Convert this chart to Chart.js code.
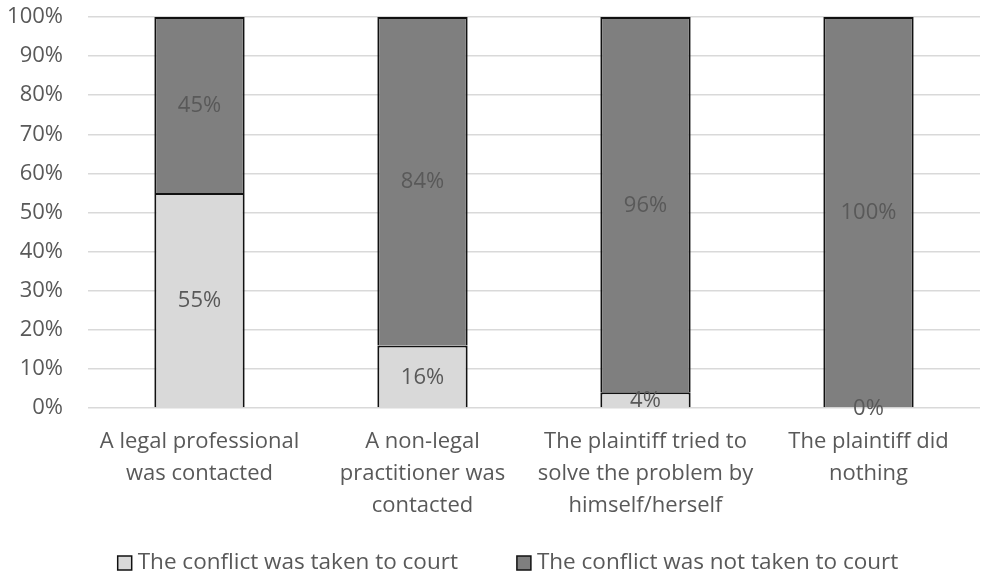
<!DOCTYPE html>
<html>
<head>
<meta charset="utf-8">
<script src="https://cdn.jsdelivr.net/npm/chart.js@4"></script>
<style>
  html, body { margin: 0; padding: 0; background: #fff; }
  #wrap { width: 983px; height: 574px; }
</style>
</head>
<body>
<div id="wrap"><canvas id="barChart" width="983" height="574"></canvas></div>
<script>
const categories = [
  ['A legal professional', 'was contacted'],
  ['A non-legal', 'practitioner was', 'contacted'],
  ['The plaintiff tried to', 'solve the problem by', 'himself/herself'],
  ['The plaintiff did', 'nothing']
];
const takenToCourt = [55, 16, 4, 0];
const notTakenToCourt = [45, 84, 96, 100];
const seriesNames = ['The conflict was taken to court', 'The conflict was not taken to court'];

const textColor = '#595959';
const font = 'Open Sans';

// writes each segment's value in the middle of its bar
const valueLabels = {
  id: 'valueLabels',
  afterDatasetsDraw(chart) {
    const ctx = chart.ctx;
    ctx.save();
    ctx.font = '22px "' + font + '"';
    ctx.fillStyle = textColor;
    ctx.textAlign = 'center';
    ctx.textBaseline = 'middle';
    chart.data.datasets.forEach((ds, i) => {
      chart.getDatasetMeta(i).data.forEach((bar, j) => {
        const p = bar.getProps(['x', 'y', 'base'], true);
        ctx.fillText(ds.data[j] + '%', p.x, (p.y + p.base) / 2 + 1);
      });
    });
    ctx.restore();
  }
};

// legend row under the axis labels, boxes + series names
const bottomLegend = {
  id: 'bottomLegend',
  afterDraw(chart) {
    const ctx = chart.ctx;
    const box = 14, gapText = 6, gapItem = 59, y = 563;
    ctx.save();
    ctx.font = '22.5px "' + font + '"';
    ctx.textBaseline = 'middle';
    ctx.textAlign = 'left';
    const widths = chart.data.datasets.map(ds => ctx.measureText(ds.label).width);
    let total = 0;
    widths.forEach((w, i) => { total += box + gapText + w + (i ? gapItem : 0); });
    let x = 508 - total / 2;
    chart.data.datasets.forEach((ds, i) => {
      ctx.fillStyle = ds.backgroundColor;
      ctx.fillRect(x, y - box / 2, box, box);
      ctx.strokeStyle = '#111';
      ctx.lineWidth = 1.5;
      ctx.strokeRect(x, y - box / 2, box, box);
      ctx.fillStyle = textColor;
      ctx.fillText(ds.label, x + box + gapText, y);
      x += box + gapText + widths[i] + gapItem;
    });
    ctx.restore();
  }
};

new Chart(document.getElementById('barChart'), {
  type: 'bar',
  data: {
    labels: categories,
    datasets: [
      {
        label: seriesNames[0],
        data: takenToCourt,
        backgroundColor: '#d9d9d9',
        borderColor: '#111',
        borderWidth: 2
      },
      {
        label: seriesNames[1],
        data: notTakenToCourt,
        backgroundColor: '#7f7f7f',
        borderColor: '#111',
        borderWidth: 2
      }
    ]
  },
  options: {
    responsive: false,
    animation: false,
    categoryPercentage: 1,
    barPercentage: 0.405,
    layout: { padding: { top: 17, right: 3, bottom: 54, left: 0 } },
    plugins: {
      legend: { display: false },
      tooltip: { enabled: false }
    },
    scales: {
      x: {
        stacked: true,
        grid: { display: false },
        border: { display: false },
        ticks: {
          color: textColor,
          font: { family: font, size: 22, lineHeight: 1.45 },
          maxRotation: 0,
          padding: 10
        },
        afterFit(scale) { scale.height = 112; }
      },
      y: {
        stacked: true,
        min: 0,
        max: 100,
        grid: { color: '#d9d9d9', lineWidth: 1.5, drawTicks: false },
        border: { display: false },
        ticks: {
          stepSize: 10,
          color: textColor,
          font: { family: font, size: 22 },
          padding: 25,
          callback: v => v + '%'
        },
        afterFit(scale) {
          scale.width = 88;
          scale.paddingTop = 0;
          scale.paddingBottom = 0;
        }
      }
    }
  },
  plugins: [valueLabels, bottomLegend]
});
</script>
</body>
</html>
